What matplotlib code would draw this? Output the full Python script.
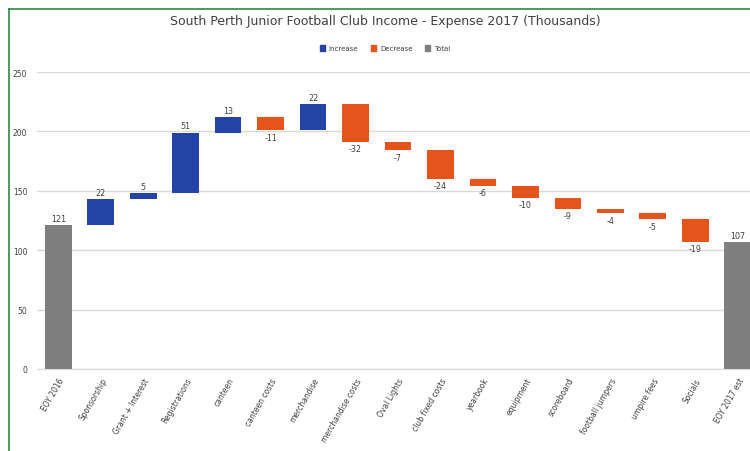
import matplotlib
matplotlib.use("Agg")
import matplotlib.pyplot as plt
from matplotlib.lines import Line2D
from matplotlib.patches import Patch

categories = ["EOY 2016", "Sponsorship", "Grant + Interest", "Registrations", "canteen",
              "canteen costs", "merchandise", "merchandise costs", "Oval Lights",
              "club fixed costs", "yearbook", "equipment", "scoreboard",
              "football jumpers", "umpire fees", "Socials", "EOY 2017 est"]
values = [121, 22, 5, 51, 13, -11, 22, -32, -7, -24, -6, -10, -9, -4, -5, -19, 107]
kinds = ["total"] + ["delta"] * 15 + ["total"]

c_inc = "#2343A6"
c_dec = "#E4541B"
c_tot = "#7F7F7F"

fig = plt.figure(figsize=(7.5, 4.52), dpi=100)
ax = fig.add_axes([37/750, 82/452, 722/750, 297/452])

running = 0
for i, (v, k) in enumerate(zip(values, kinds)):
    if k == "total":
        ax.bar(i, v, bottom=0, width=0.63, color=c_tot, zorder=3)
        ax.text(i, v + 2, str(v), ha="center", va="bottom", fontsize=5.8, color="#404040")
        running = v
    else:
        if v >= 0:
            ax.bar(i, v, bottom=running, width=0.63, color=c_inc, zorder=3)
            ax.text(i, running + v + 2, str(v), ha="center", va="bottom", fontsize=5.8, color="#404040")
        else:
            ax.bar(i, v, bottom=running, width=0.63, color=c_dec, zorder=3)
            ax.text(i, running + v - 2, str(v), ha="center", va="top", fontsize=5.8, color="#404040")
        running += v

ax.set_xlim(-0.5, len(values) - 0.5)
ax.set_ylim(0, 250)
ax.set_yticks([0, 50, 100, 150, 200, 250])
ax.set_xticks(range(len(categories)))
ax.set_xticklabels(categories, rotation=60, ha="right", rotation_mode="anchor", fontsize=5.5, color="#404040")
ax.tick_params(axis="y", labelsize=5.5, labelcolor="#404040", length=0, pad=7)
ax.tick_params(axis="x", length=0, pad=5)
ax.grid(axis="y", color="#D9D9D9", linewidth=1, zorder=0)
for s in ["top", "right", "left"]:
    ax.spines[s].set_visible(False)
ax.spines["bottom"].set_color("#D9D9D9")

fig.text(385/750, 1 - 22/452, "South Perth Junior Football Club Income - Expense 2017 (Thousands)",
         ha="center", va="center", fontsize=9, color="#404040")
handles = [Patch(color=c_inc, label="Increase"), Patch(color=c_dec, label="Decrease"),
           Patch(color=c_tot, label="Total")]
fig.legend(handles=handles, loc="center", bbox_to_anchor=(385/750, 1 - 49/452), ncol=3,
           frameon=False, fontsize=5, handlelength=0.8, handleheight=0.9, columnspacing=1.8,
           handletextpad=0.5, labelcolor="#404040")

green = "#2E8B3E"
fig.add_artist(Line2D([9/750, 1], [1 - 10/452, 1 - 10/452], color=green, lw=1.2))
fig.add_artist(Line2D([9/750, 9/750], [0, 1 - 10/452], color=green, lw=1.2))

fig.savefig("out.png", dpi=100)
